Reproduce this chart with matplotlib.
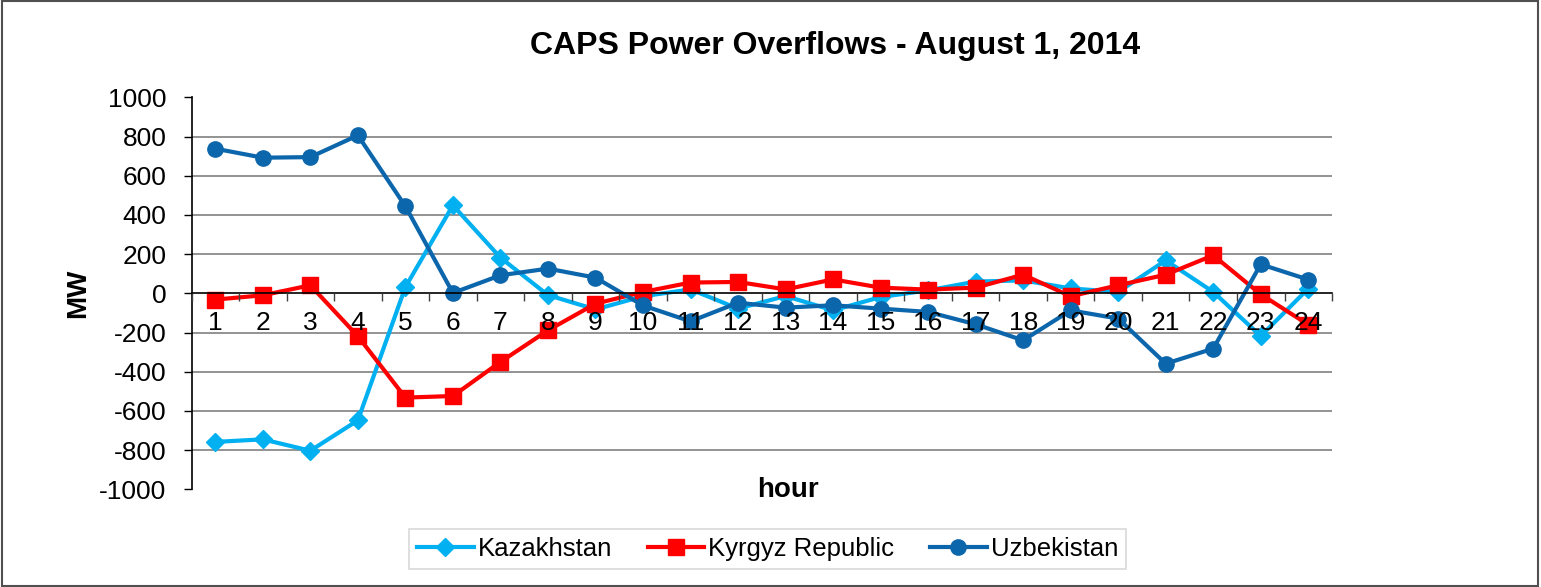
import numpy as np
import matplotlib
matplotlib.use("Agg")
import matplotlib.pyplot as plt
from matplotlib.patches import Rectangle

plt.rcParams['font.family'] = ['Liberation Sans', 'DejaVu Sans']
plt.rcParams['axes.unicode_minus'] = False

hours = [str(h) for h in range(1, 25)]
kazakhstan = [-758, -745, -803, -648, 32, 449, 182, -9, -82, -15, 20, -78,
              -14, -87, -19, 15, 60, 66, 25, 7, 168, 7, -218, 24]
kyrgyz = [-32, -10, 41, -219, -532, -524, -350, -189, -53, 7, 55, 58,
          20, 71, 29, 19, 29, 95, -15, 41, 95, 194, -5, -160]
uzbekistan = [738, 692, 695, 806, 444, 2, 92, 126, 80, -62, -143, -48,
              -73, -61, -78, -95, -158, -240, -87, -129, -359, -282, 148, 70]

yticks = list(range(-1000, 1001, 200))

fig = plt.figure(figsize=(15.41, 5.87), dpi=100)
fig.patches.append(Rectangle((0.001, 0.002), 0.997, 0.996, transform=fig.transFigure,
                             fill=False, edgecolor='#505050', linewidth=1.5))
ax = fig.add_axes([0.1243, 0.1664, 0.7401, 0.6678])

x = np.arange(1, 25)

# gridlines drawn as lines so tick labels can sit above the data
for v in yticks:
    if v not in (-1000, 0, 1000):
        ax.axhline(v, color='#8a8a8a', linewidth=1.3, zorder=1)

ax.plot(x, kazakhstan, color='#00B0F0', linewidth=3, marker='D', markersize=9,
        label='Kazakhstan', zorder=2)
ax.plot(x, kyrgyz, color='#FF0000', linewidth=3, marker='s', markersize=11,
        label='Kyrgyz Republic', zorder=2)
ax.plot(x, uzbekistan, color='#0C66AB', linewidth=3, marker='o', markersize=11,
        label='Uzbekistan', zorder=2)

ax.set_xlim(0.5, 24.5)
ax.set_ylim(-1000, 1000)
ax.set_yticks(yticks)
ax.set_xticks(x)
ax.set_xticklabels(hours)
ax.set_xticks(np.arange(0.5, 25, 1), minor=True)
ax.set_axisbelow(False)

ax.spines['top'].set_visible(False)
ax.spines['right'].set_visible(False)
ax.spines['bottom'].set_position(('data', 0))
ax.spines['bottom'].set_linewidth(1.2)
ax.spines['left'].set_linewidth(1.2)

ax.tick_params(axis='x', which='major', length=0, pad=13, labelsize=19)
ax.tick_params(axis='x', which='minor', length=6, width=1, color='#404040', direction='out')
ax.tick_params(axis='y', which='major', length=6, width=1, pad=12, labelsize=19)

fig.text(0.542, 0.922, 'CAPS Power Overflows - August 1, 2014', fontsize=23,
         fontweight='bold', ha='center', va='center')
fig.text(0.051, 0.5, 'MW', fontsize=20, fontweight='bold', rotation=90,
         ha='center', va='center')
fig.text(0.511, 0.165, 'hour', fontsize=20, fontweight='bold', ha='center', va='center')

leg = ax.legend(loc='center', bbox_to_anchor=(0.505, -0.152), ncol=3, fontsize=18.5,
                frameon=True, fancybox=False, edgecolor='#d0d0d0', handlelength=2.2,
                columnspacing=1.4, handletextpad=0.15, borderpad=0.3)
leg.get_frame().set_linewidth(1.2)

fig.savefig('out.png', dpi=100)
